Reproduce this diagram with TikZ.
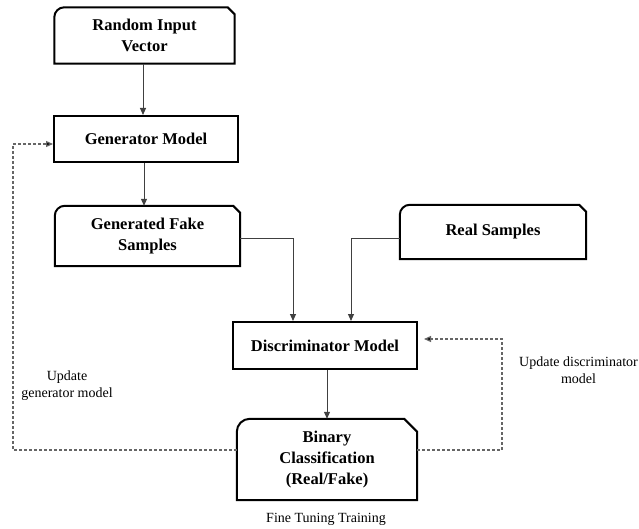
\documentclass[tikz,border=0pt]{standalone}
\usepackage{fontspec}
\setmainfont{Liberation Serif}
\usetikzlibrary{arrows.meta,calc}
\tikzset{
  lbl/.style={draw=none,align=center,inner sep=0pt,font=\fontsize{16.5}{21}\selectfont\bfseries},
  note/.style={draw=none,align=center,inner sep=0pt,font=\fontsize{14}{17}\selectfont},
  boxline/.style={line width=2pt,black},
  flow/.style={line width=1pt,draw=black!75,-{Triangle[length=7pt,width=6pt]}},
  fb/.style={line width=1.2pt,draw=black!60,dash pattern=on 3pt off 2pt,-{Triangle[length=7pt,width=6pt,fill=black]}},
}
% box with rounded top-left corner and chamfered top-right corner
\newcommand\shapebox[3]{% name, radius, chamfer
  \draw[boxline] (#1.south west) -- ([yshift=-#2pt]#1.north west)
    arc[start angle=180,end angle=90,radius=#2pt]
    -- ([xshift=-#3pt]#1.north east) -- ([yshift=-#3pt]#1.north east)
    -- (#1.south east) -- cycle;}
\begin{document}
\begin{tikzpicture}[x=1pt,y=-1pt]
\useasboundingbox[fill=white] (0,0) rectangle (639,529);

\node[lbl,minimum width=180pt,minimum height=56pt] (riv) at (144.5,35.5) {Random Input\\Vector};
\node[lbl,draw,line width=2pt,minimum width=184pt,minimum height=46pt] (gen) at (146,139) {Generator Model};
\node[lbl,minimum width=185pt,minimum height=60pt] (gfs) at (147.5,236) {Generated Fake\\Samples};
\node[lbl,minimum width=186pt,minimum height=54pt] (real) at (493,232) {Real Samples};
\node[lbl,draw,line width=2pt,minimum width=184pt,minimum height=47pt] (disc) at (325,345.5) {Discriminator Model};
\node[lbl,minimum width=180pt,minimum height=81pt] (bin) at (327,459.5) {Binary\\Classification\\(Real/Fake)};

\shapebox{riv}{10}{7}
\shapebox{gfs}{10}{7}
\shapebox{real}{10}{7}
\shapebox{bin}{13}{13}

\node[note] (fine) at (326,519) {Fine Tuning Training};
\node[note] (upg) at (67,385.5) {Update\\generator model};
\node[note] (upd) at (578.5,370.5) {Update discriminator\\model};

\coordinate (gl) at (13,144);
\coordinate (gb) at (13,450);
\coordinate (dr) at (502,339);
\coordinate (db) at (502,450);
\coordinate (fj) at (293,238);
\coordinate (rj) at (351,238);

\draw[flow] (riv.south -| 143,0) -- (gen.north -| 143,0);
\draw[flow] (gen.south -| 144,0) -- (gfs.north -| 144,0);
\draw[flow] (gfs.east |- fj) -- (fj) -- (fj |- disc.north);
\draw[flow] (real.west |- rj) -- (rj) -- (rj |- disc.north);
\draw[flow] (disc.south -| 327,0) -- (bin.north -| 327,0);

\draw[fb] (bin.west |- gb) -- (gb) -- (gl) -- (gen.west |- gl);
\draw[fb,shorten >=6pt] (bin.east |- db) -- (db) -- (dr) -- (disc.east |- dr);
\end{tikzpicture}
\end{document}
